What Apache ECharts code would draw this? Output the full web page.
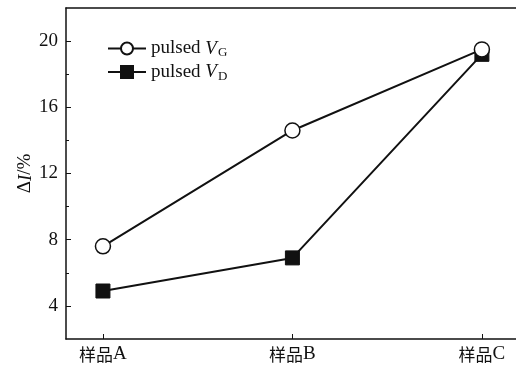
<!DOCTYPE html>
<html>
<head>
<meta charset="utf-8">
<script src="https://cdn.jsdelivr.net/npm/echarts@6/dist/echarts.min.js"></script>
<style>
  html, body { margin: 0; padding: 0; background: #fff; }
  #chart { width: 516px; height: 368px; }
</style>
</head>
<body>
<div id="chart"></div>
<script>
// Samples along the x axis (placed at 0, 1, 2)
const categories = ['样品A', '样品B', '样品C'];
// ΔI (%) for each pulse mode
const pulsedVG = [7.6, 14.6, 19.5];
const pulsedVD = [4.9, 6.9, 19.2];
// Labelled and minor tick values on the y axis
const yMajorTicks = [4, 8, 12, 16, 20];
const yMinorTicks = [6, 10, 14, 18];

const serif = '"Liberation Serif", "DejaVu Serif", serif';
const cjk = '"Noto Sans CJK SC", serif';
const ink = '#111';

const chart = echarts.init(document.getElementById('chart'), null, { renderer: 'canvas' });

const toPairs = arr => arr.map((v, i) => [i, v]);

chart.setOption({
  animation: false,
  backgroundColor: '#fff',
  grid: { left: 66, right: 0, top: 8, bottom: 29 },
  legend: {
    left: 102,
    top: 34,
    orient: 'vertical',
    itemGap: 3,
    itemWidth: 38,
    itemHeight: 15,
    data: ['pulsed VG', 'pulsed VD'],
    formatter: name => '{t|pulsed }{v|V}{s|' + name.slice(-1) + '}',
    textStyle: {
      color: ink,
      rich: {
        t: { fontFamily: serif, fontSize: 19, color: ink },
        v: { fontFamily: serif, fontSize: 19, fontStyle: 'italic', color: ink },
        s: { fontFamily: serif, fontSize: 13, color: ink, verticalAlign: 'bottom', padding: [9, 0, 0, 1] }
      }
    }
  },
  xAxis: [{
    type: 'value',
    min: -0.195,
    max: 2.18,
    position: 'bottom',
    splitLine: { show: false },
    axisLine: { show: true, onZero: false, lineStyle: { color: ink, width: 1.5 } },
    axisTick: { show: true, inside: true, length: 5, customValues: [0, 1, 2], lineStyle: { color: ink, width: 1 } },
    axisLabel: {
      customValues: [0, 1, 2],
      margin: 6,
      formatter: v => {
        const c = categories[Math.round(v)] || '';
        return '{h|' + c.slice(0, -1) + '}{l|' + c.slice(-1) + '}';
      },
      color: ink,
      rich: {
        h: { fontFamily: cjk, fontSize: 17, color: ink },
        l: { fontFamily: serif, fontSize: 19, color: ink }
      }
    }
  }, {
    type: 'value',
    min: -0.195,
    max: 2.18,
    position: 'top',
    splitLine: { show: false },
    axisLine: { show: true, onZero: false, lineStyle: { color: ink, width: 1.5 } },
    axisTick: { show: false },
    axisLabel: { show: false }
  }],
  yAxis: [{
    type: 'value',
    min: 2,
    max: 22,
    position: 'left',
    name: '{d|Δ}{i|I}{d|/%}',
    nameLocation: 'middle',
    nameRotate: 90,
    nameGap: 31,
    nameMoveOverlap: false,
    nameTextStyle: {
      rich: {
        d: { fontFamily: serif, fontSize: 19, color: ink },
        i: { fontFamily: serif, fontSize: 19, fontStyle: 'italic', color: ink }
      }
    },
    splitLine: { show: false },
    axisLine: { show: true, onZero: false, lineStyle: { color: ink, width: 1.5 } },
    axisTick: { show: true, inside: true, length: 5, customValues: yMajorTicks, lineStyle: { color: ink, width: 1 } },
    axisLabel: { customValues: yMajorTicks, margin: 8, fontFamily: serif, fontSize: 19, color: ink }
  }, {
    type: 'value',
    min: 2,
    max: 22,
    position: 'left',
    splitLine: { show: false },
    axisLine: { show: false, onZero: false },
    axisTick: { show: true, inside: true, length: 3, customValues: yMinorTicks, lineStyle: { color: ink, width: 1 } },
    axisLabel: { show: false }
  }],
  series: [{
    name: 'pulsed VD',
    type: 'line',
    data: toPairs(pulsedVD),
    symbol: 'rect',
    symbolSize: 14,
    lineStyle: { color: ink, width: 2 },
    itemStyle: { color: ink, borderColor: ink, borderWidth: 1 },
    z: 2
  }, {
    name: 'pulsed VG',
    type: 'line',
    data: toPairs(pulsedVG),
    symbol: 'circle',
    symbolSize: 15,
    lineStyle: { color: ink, width: 2 },
    itemStyle: { color: '#fff', borderColor: ink, borderWidth: 1.5 },
    z: 3
  }]
});
</script>
</body>
</html>
